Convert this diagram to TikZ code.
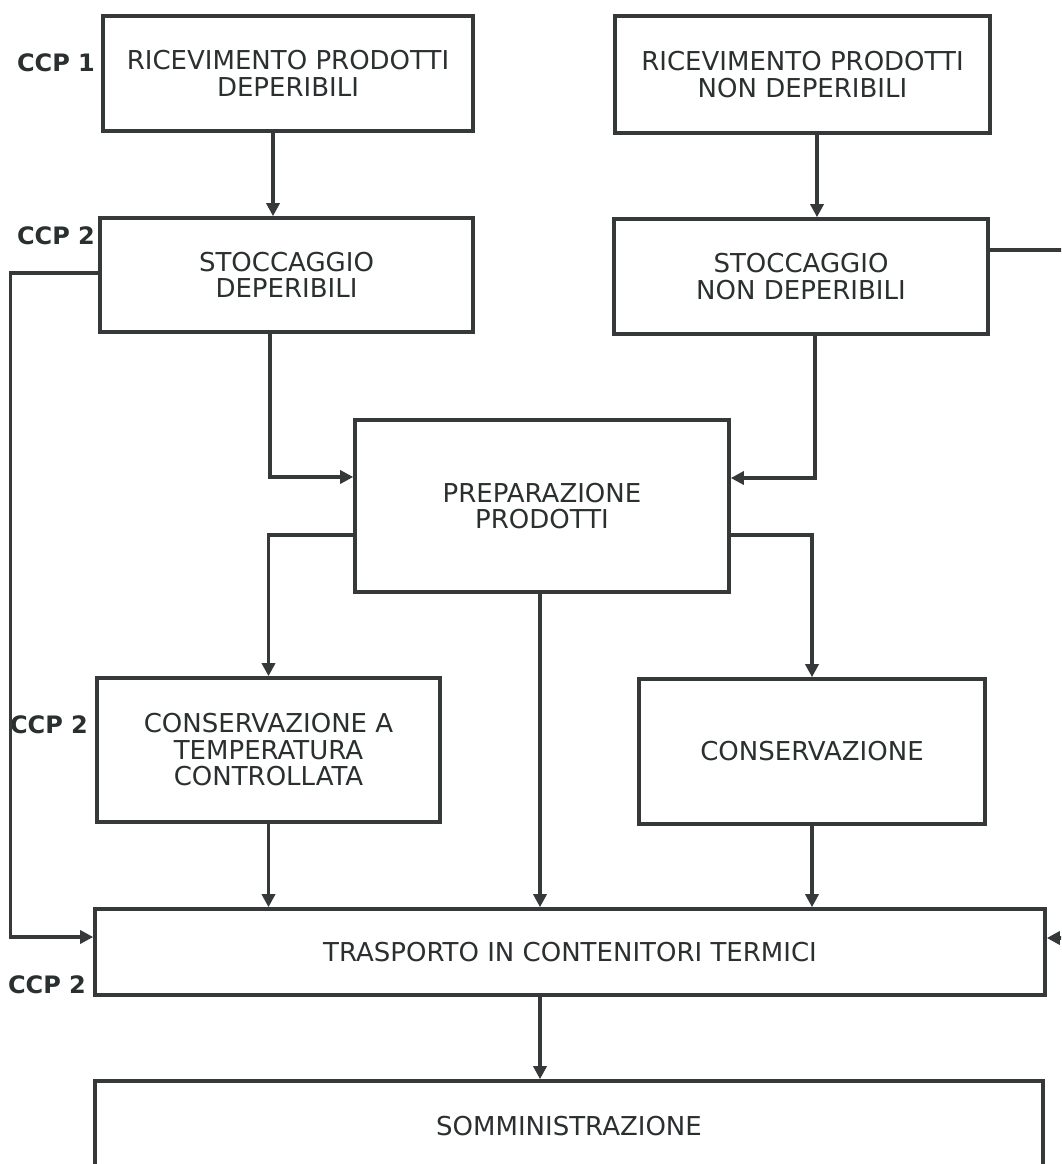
\documentclass[tikz,border=0pt]{standalone}
\usepackage{fontspec}
\setmainfont{DejaVu Sans}
\usetikzlibrary{arrows.meta,calc}
\definecolor{ink}{HTML}{353939}
\definecolor{txt}{HTML}{2A2F2F}
\begin{document}
\begin{tikzpicture}[x=1pt,y=-1pt,
  stepbox/.style={draw=ink, line width=3.6pt, fill=white, align=center, text=txt,
    font=\fontsize{26}{26.5}\selectfont, inner sep=0pt},
  flow/.style={draw=ink, line width=3.4pt, -{Triangle[length=13pt,width=13pt]}},
  ccp/.style={text=txt, font=\bfseries\fontsize{24}{26}\selectfont, inner sep=0pt}]
\useasboundingbox (0,0) rectangle (1061,1164);
\clip (0,0) rectangle (1061,1164);

% process steps
\node[stepbox, minimum width=370pt, minimum height=115pt] (r1) at (288,73.5)
  {RICEVIMENTO PRODOTTI\\DEPERIBILI};
\node[stepbox, minimum width=375pt, minimum height=117pt] (r2) at (802.5,74.5)
  {RICEVIMENTO PRODOTTI\\NON DEPERIBILI};
\node[stepbox, minimum width=373pt, minimum height=114pt] (s1) at (286.5,275)
  {STOCCAGGIO\\DEPERIBILI};
\node[stepbox, minimum width=374pt, minimum height=115pt] (s2) at (801,276.5)
  {STOCCAGGIO\\NON DEPERIBILI};
\node[stepbox, minimum width=374pt, minimum height=172pt] (p) at (542,506)
  {PREPARAZIONE\\PRODOTTI};
\node[stepbox, minimum width=343pt, minimum height=144pt] (c1) at (268.5,750)
  {CONSERVAZIONE A\\TEMPERATURA\\CONTROLLATA};
\node[stepbox, minimum width=346pt, minimum height=145pt] (c2) at (812,751.5)
  {CONSERVAZIONE};
\node[stepbox, minimum width=950pt, minimum height=86pt] (t) at (570,952)
  {TRASPORTO IN CONTENITORI TERMICI};
\node[stepbox, minimum width=948pt, minimum height=90pt] (som) at (569,1126)
  {SOMMINISTRAZIONE};

% critical control points
\node[ccp] (k1) at (56,62.5) {CCP 1};
\node[ccp] (k2) at (56,236) {CCP 2};
\node[ccp] (k3) at (49,725) {CCP 2};
\node[ccp] (k4) at (47,985) {CCP 2};

% flows
\draw[flow] ([xshift=-15pt]r1.south) -- ([xshift=-15pt]r1.south |- s1.north);
\draw[flow] ([xshift=14.5pt]r2.south) -- ([xshift=14.5pt]r2.south |- s2.north);
\draw[flow] ([xshift=-16.5pt]s1.south) |- ([yshift=29pt]p.west);
\draw[flow] ([xshift=14pt]s2.south) |- ([yshift=28pt]p.east);
\draw[flow] ([yshift=-29pt]p.west) -| (c1.north);
\draw[flow] ([yshift=-29pt]p.east) -| (c2.north);
\draw[flow] ([xshift=-2pt]p.south) -- ([xshift=-2pt]p.south |- t.north);
\draw[flow] (c1.south) -- (c1.south |- t.north);
\draw[flow] (c2.south) -- (c2.south |- t.north);
\draw[flow] ([yshift=2pt]s1.west) -- ++(-88pt,0) |- ([yshift=15pt]t.west);
\draw[flow] ([yshift=26.5pt]s2.east) -- ++(90pt,0) |- ([yshift=14pt]t.east);
\draw[flow] ([xshift=-30pt]t.south) -- ([xshift=-30pt]t.south |- som.north);
\end{tikzpicture}
\end{document}
